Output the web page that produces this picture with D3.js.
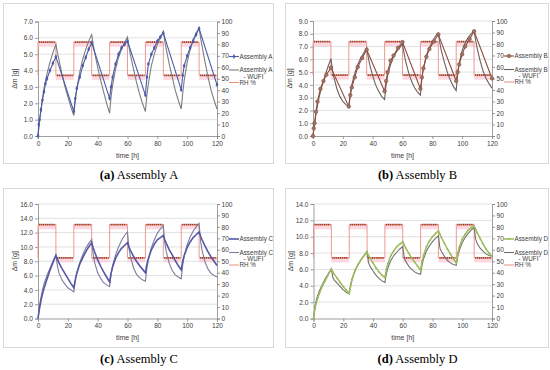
<!DOCTYPE html>
<html><head><meta charset="utf-8">
<script src="https://cdn.jsdelivr.net/npm/d3@7"></script>
<style>
body{margin:0;background:#fff}
svg{display:block}
text{font-family:"Liberation Sans",Arial,sans-serif}
</style>
</head><body>
<svg id="c" width="550" height="370"></svg>
<script>
// ---------- data ----------
const xTicks = [0, 20, 40, 60, 80, 100, 120];
const rhTicks = [0, 10, 20, 30, 40, 50, 60, 70, 80, 90, 100];
const yTicksA = [0, 1, 2, 3, 4, 5, 6, 7];
const yTicksB = [0, 1, 2, 3, 4, 5, 6, 7, 8, 9];
const yTicksC = [0, 2, 4, 6, 8, 10, 12, 14, 16];
const yTicksD = [0, 2, 4, 6, 8, 10, 12, 14];

const rhStart = [0, 12, 24, 36, 48, 60, 72, 84, 96, 108];
const rhEnd   = [12, 24, 36, 48, 60, 72, 84, 96, 108, 120];
const rhLevel = [82, 53, 82, 53, 82, 53, 82, 53, 82, 53];

const wufiTime = [0,1,2,3,4,6,8,10,12,
  13,14,16,18,20,22,24, 25,26,28,30,32,34,36,
  37,38,40,42,44,46,48, 49,50,52,54,56,58,60,
  61,62,64,66,68,70,72, 73,74,76,78,80,82,84,
  85,86,88,90,92,94,96, 97,98,100,102,104,106,108,
  109,110,112,114,116,118,120];

const measTimeA = [0,0.5,1,2,3,4,5,6,8,10,12, 24,25,26,28,30,32,34,36,
  48,49,50,52,54,56,58,60, 72,73,74,76,78,80,82,84,
  96,97,98,100,102,104,106,108, 120];
const assemblyA = [0,0.7,1.0,1.6,2.2,2.7,3.2,3.5,4.0,4.45,4.85,
  1.5,2.3,2.9,3.6,4.3,4.8,5.3,5.7,
  2.3,3.0,3.6,4.4,5.0,5.4,5.6,5.8,
  2.5,3.6,4.4,5.0,5.4,5.8,6.05,6.3,
  2.83,3.7,4.3,4.9,5.4,5.8,6.2,6.57,
  3.13];
const wufiA = [0,0.8,1.6,2.3,2.9,3.8,4.5,5.1,5.6,
  5.1,4.7,3.8,3.05,2.4,1.8,1.25,
  2.2,2.9,3.9,4.7,5.3,5.8,6.2,
  5.6,5.1,4.2,3.4,2.7,2.0,1.4,
  2.4,3.1,4.1,4.8,5.3,5.7,6.05,
  5.45,4.95,4.1,3.3,2.6,2.0,1.5,
  2.5,3.2,4.3,5.0,5.6,6.0,6.4,
  5.8,5.3,4.4,3.6,2.8,2.2,1.65,
  2.6,3.4,4.5,5.3,5.9,6.3,6.6,
  6.0,5.5,4.5,3.6,2.8,2.2,1.65];

const measTimeB = [0,0.5,1,2,3,5,7,9,12, 24,25,26,28,30,33,36,
  48,49,50,52,54,57,60, 72,73,74,76,78,81,84,
  96,97,98,100,102,105,108, 120];
const assemblyB = [0,0.6,1.0,1.9,2.7,3.7,4.3,4.8,5.35,
  2.3,3.2,3.8,4.6,5.4,6.1,6.75,
  3.5,4.3,5.0,5.9,6.3,6.9,7.35,
  3.7,4.6,5.3,6.2,6.8,7.4,7.95,
  4.3,5.0,5.6,6.4,7.0,7.6,8.2,
  4.5];
const wufiB = [0,0.9,1.7,2.4,3.0,3.9,4.7,5.4,6.05,
  5.2,4.6,3.7,3.1,2.7,2.45,2.3,
  3.3,4.0,4.9,5.6,6.1,6.5,6.9,
  6.2,5.6,4.7,4.0,3.5,3.1,2.85,
  4.0,4.7,5.6,6.2,6.6,6.9,7.2,
  6.5,5.9,5.0,4.3,3.8,3.45,3.2,
  4.5,5.3,6.3,6.9,7.4,7.8,8.05,
  7.3,6.7,5.8,5.0,4.4,3.9,3.55,
  4.9,5.7,6.7,7.3,7.7,8.0,8.25,
  7.5,6.9,5.9,5.1,4.5,4.1,3.75];

const assemblyC = [0,1.4,2.5,3.4,4.2,5.5,6.7,7.8,8.8,
  8.3,7.8,7.0,6.3,5.6,4.9,4.3,
  5.4,6.3,7.6,8.5,9.3,10.0,10.6,
  9.9,9.3,8.2,7.3,6.5,5.8,5.1,
  6.3,7.2,8.4,9.2,9.8,10.2,10.6,
  10.0,9.5,8.7,8.0,7.4,6.9,6.4,
  7.6,8.4,9.6,10.4,11.0,11.3,11.6,
  11.0,10.5,9.6,8.9,8.1,7.4,6.8,
  8.0,8.8,9.9,10.7,11.3,11.7,12.1,
  11.5,11.0,10.1,9.3,8.6,8.0,7.4];
const wufiC = [0,1.8,3.0,4.0,4.8,6.0,7.0,8.0,8.9,
  7.4,6.4,5.4,4.8,4.3,4.0,3.7,
  5.3,6.4,7.8,8.9,9.8,10.5,11.05,
  9.0,7.8,6.4,5.6,5.0,4.7,4.45,
  6.2,7.4,8.9,10.0,10.9,11.6,12.1,
  9.8,8.6,7.1,6.2,5.7,5.4,5.2,
  7.0,8.2,9.9,11.0,11.9,12.5,13.0,
  10.6,9.3,7.7,6.7,6.1,5.8,5.55,
  7.5,8.7,10.3,11.4,12.2,12.8,13.3,
  10.8,9.5,7.9,6.9,6.3,6.0,5.8];

const assemblyD = [0,1.2,2.0,2.6,3.1,4.0,4.7,5.4,6.0,
  5.7,5.4,4.9,4.4,3.9,3.5,3.06,
  4.0,4.8,5.9,6.6,7.2,7.7,8.1,
  7.7,7.4,6.8,6.2,5.7,5.3,5.0,
  6.0,6.7,7.7,8.3,8.8,9.1,9.4,
  9.0,8.6,8.0,7.4,6.9,6.4,5.9,
  7.0,7.7,8.8,9.5,10.0,10.4,10.7,
  10.3,9.9,9.2,8.5,7.9,7.3,6.8,
  8.0,8.7,9.7,10.3,10.8,11.1,11.3,
  10.9,10.5,9.8,9.1,8.5,8.0,7.6];
const wufiD = [0,1.5,2.3,2.9,3.4,4.2,4.9,5.5,6.1,
  5.0,4.7,4.3,3.9,3.5,3.2,3.0,
  4.2,4.9,5.9,6.6,7.2,7.7,8.2,
  6.8,6.4,5.8,5.3,4.9,4.6,4.4,
  5.5,6.2,7.1,7.7,8.1,8.5,8.8,
  7.4,7.0,6.4,6.0,5.7,5.5,5.4,
  6.6,7.3,8.3,8.9,9.4,9.8,10.1,
  8.6,8.2,7.6,7.1,6.8,6.6,6.5,
  7.6,8.3,9.3,9.9,10.4,10.8,11.1,
  9.7,9.2,8.6,8.2,7.9,7.7,7.6];

// ---------- panels ----------
const panels = [
  {tag:'(a)', name:'Assembly A', mt:measTimeA, mv:assemblyA, wt:wufiTime, wv:wufiA,
   yMax:7, yTicks:yTicksA, frame:[3,3,273,163], plot:[38,21.5,217,136],
   mColor:'#4b5ba9', wColor:'#7d7d7d', marker:'diamond', mWidth:1.1},
  {tag:'(b)', name:'Assembly B', mt:measTimeB, mv:assemblyB, wt:wufiTime, wv:wufiB,
   yMax:9, yTicks:yTicksB, frame:[285,3,548,163], plot:[313,21,492,136],
   mColor:'#8e4a3c', wColor:'#6e5e5e', marker:'circle', mWidth:1.1},
  {tag:'(c)', name:'Assembly C', mt:wufiTime, mv:assemblyC, wt:wufiTime, wv:wufiC,
   yMax:16, yTicks:yTicksC, frame:[3,188,273,347], plot:[38,204,217,318.5],
   mColor:'#5658a6', wColor:'#7c7c9c', marker:'none', mWidth:1.6},
  {tag:'(d)', name:'Assembly D', mt:wufiTime, mv:assemblyD, wt:wufiTime, wv:wufiD,
   yMax:14, yTicks:yTicksD, frame:[285,188,548,347], plot:[313.5,204,492,318.5],
   mColor:'#9bbb59', wColor:'#707070', marker:'small', mWidth:1.5}
];

const svg = d3.select('#c');
const axisCol = '#868686', txtCol = '#404040';

function styleAxis(g){
  g.selectAll('.domain').attr('stroke', axisCol).attr('stroke-width', 0.8);
  g.selectAll('.tick line').attr('stroke', axisCol).attr('stroke-width', 0.8);
  g.selectAll('.tick text').attr('fill', txtCol).attr('font-size', 6.6)
    .attr('font-family', '"Liberation Sans",Arial,sans-serif');
}

function drawMarker(g, type, cx, cy, color){
  if (type === 'diamond') {
    g.append('path').attr('d', d3.symbol(d3.symbolDiamond, 7)())
      .attr('transform', `translate(${cx},${cy})`).attr('fill', color);
  } else if (type === 'circle') {
    g.append('circle').attr('cx', cx).attr('cy', cy).attr('r', 1.8)
      .attr('fill', '#9a7868').attr('stroke', color).attr('stroke-width', 0.6);
  } else if (type === 'small') {
    g.append('circle').attr('cx', cx).attr('cy', cy).attr('r', 0.9).attr('fill', color);
  }
}

panels.forEach(p => {
  const [fx0, fy0, fx1, fy1] = p.frame;
  const [px0, py0, px1, py1] = p.plot;
  const g = svg.append('g');

  g.append('rect').attr('x', fx0 + 0.5).attr('y', fy0 + 0.5)
    .attr('width', fx1 - fx0).attr('height', fy1 - fy0)
    .attr('fill', 'none').attr('stroke', '#d9d9d9').attr('stroke-width', 1);

  const x = d3.scaleLinear().domain([0, 120]).range([px0, px1]);
  const y = d3.scaleLinear().domain([0, p.yMax]).range([py1, py0]);
  const yr = d3.scaleLinear().domain([0, 100]).range([py1, py0]);

  // gridlines
  g.append('g').selectAll('line').data(p.yTicks.filter(d => d > 0)).join('line')
    .attr('x1', px0).attr('x2', px1).attr('y1', d => y(d)).attr('y2', d => y(d))
    .attr('stroke', '#d9d9d9').attr('stroke-width', 0.8);

  // axes
  const fmt = d3.format('.1f');
  g.append('g').attr('transform', `translate(${px0},0)`)
    .call(d3.axisLeft(y).tickValues(p.yTicks).tickFormat(fmt).tickSize(3).tickPadding(2))
    .call(styleAxis);
  g.append('g').attr('transform', `translate(${px1},0)`)
    .call(d3.axisRight(yr).tickValues(rhTicks).tickSize(3).tickPadding(1.5))
    .call(styleAxis);
  g.append('g').attr('transform', `translate(0,${py1})`)
    .call(d3.axisBottom(x).tickValues(xTicks).tickSize(3).tickPadding(2))
    .call(styleAxis);

  // RH series
  const rh = g.append('g');
  rhStart.forEach((s, i) => {
    rh.append('rect').attr('x', x(s)).attr('width', x(rhEnd[i]) - x(s))
      .attr('y', yr(rhLevel[i] + 0.5)).attr('height', yr(rhLevel[i] - 4) - yr(rhLevel[i] + 0.5))
      .attr('fill', '#fbc9d6').attr('opacity', 0.75);
  });
  const stepPts = [[0, rhLevel[1]]];
  rhStart.forEach((s, i) => { stepPts.push([s, rhLevel[i]]); stepPts.push([rhEnd[i], rhLevel[i]]); });
  rh.append('path').datum(stepPts)
    .attr('d', d3.line().x(d => x(d[0])).y(d => yr(d[1])))
    .attr('fill', 'none').attr('stroke', '#eb8f86').attr('stroke-width', 0.9);
  rhStart.forEach((s, i) => {
    rh.append('line').attr('x1', x(s) + 1).attr('x2', x(rhEnd[i]) - 1)
      .attr('y1', yr(rhLevel[i])).attr('y2', yr(rhLevel[i]))
      .attr('stroke', '#9a3a1e').attr('stroke-width', 1.7).attr('stroke-dasharray', '1.2,0.7');
  });

  // WUFI line
  const line = d3.line().x(d => x(d[0])).y(d => y(d[1]));
  g.append('path').datum(p.wt.map((t, i) => [t, p.wv[i]]))
    .attr('d', line).attr('fill', 'none').attr('stroke', p.wColor).attr('stroke-width', 1.1);

  // measured line
  const mData = p.mt.map((t, i) => [t, p.mv[i]]);
  g.append('path').datum(mData)
    .attr('d', line).attr('fill', 'none').attr('stroke', p.mColor).attr('stroke-width', p.mWidth);
  const mg = g.append('g');
  mData.forEach(d => drawMarker(mg, p.marker, x(d[0]), y(d[1]), p.mColor));

  // legend
  const lx = px1 + 12, tx = px1 + 22.5;
  const l1 = py0 + 35, l2 = py0 + 48.5, l3 = py0 + 61;
  const lg = g.append('g').attr('font-size', 6.3).attr('fill', txtCol);
  lg.append('line').attr('x1', lx).attr('x2', lx + 10).attr('y1', l1).attr('y2', l1)
    .attr('stroke', p.mColor).attr('stroke-width', p.mWidth);
  drawMarker(lg, p.marker, lx + 5, l1, p.mColor);
  lg.append('text').attr('x', tx).attr('y', l1 + 2.3).text(p.name);
  lg.append('line').attr('x1', lx).attr('x2', lx + 10).attr('y1', l2).attr('y2', l2)
    .attr('stroke', p.wColor).attr('stroke-width', 1.1);
  lg.append('text').attr('x', tx).attr('y', l2 + 2.3).text(p.name);
  lg.append('text').attr('x', tx + 4).attr('y', l2 + 8.5).text('- WUFI');
  lg.append('line').attr('x1', lx).attr('x2', lx + 10).attr('y1', l3).attr('y2', l3)
    .attr('stroke', '#eb8f86').attr('stroke-width', 1);
  lg.append('text').attr('x', tx).attr('y', l3 + 2.3).text('RH %');

  // axis titles
  g.append('text').attr('transform', `translate(${px0 - 21},${(py0 + py1) / 2}) rotate(-90)`)
    .attr('text-anchor', 'middle').attr('font-size', 7).attr('fill', txtCol).text('Δm [g]');
  g.append('text').attr('x', (px0 + px1) / 2).attr('y', py1 + 21.5)
    .attr('text-anchor', 'middle').attr('font-size', 7).attr('fill', txtCol).text('time [h]');

  // caption
  const cap = g.append('text').attr('x', (fx0 + fx1) / 2 + 1).attr('y', fy1 + 16)
    .attr('text-anchor', 'middle').attr('font-size', 12.5).attr('fill', '#000')
    .style('font-family', '"Liberation Serif","Times New Roman",serif');
  cap.append('tspan').attr('font-weight', 'bold').text(p.tag);
  cap.append('tspan').text(' ' + p.name);
});
</script>
</body></html>
